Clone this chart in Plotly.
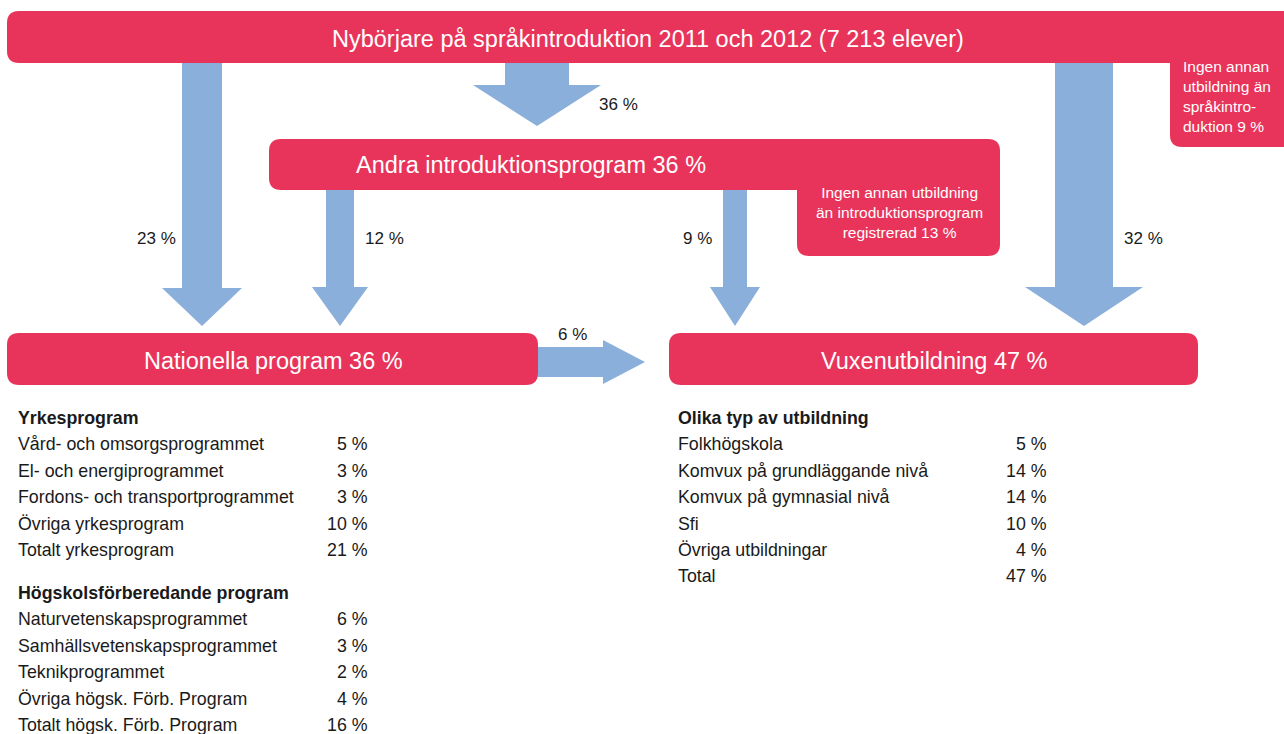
import plotly.graph_objects as go

# -- ------------------------------------------------------------------------------------ DATA -- #

box_labels = ['Nybörjare på språkintroduktion 2011 och 2012 (7 213 elever)',
              'Andra introduktionsprogram 36 %',
              'Nationella program 36 %',
              'Vuxenutbildning 47 %']

note_labels = ['Ingen annan<br>utbildning än<br>språkintro-<br>duktion 9 %',
               'Ingen annan utbildning<br>än introduktionsprogram<br>registrerad 13 %']

flow_names = ['till nationella', 'till andra intro', 'intro till nationella',
              'intro till vuxen', 'till vuxen', 'nationella till vuxen']
flow_pct = [23, 36, 12, 9, 32, 6]

yrkes_names = ['Vård- och omsorgsprogrammet', 'El- och energiprogrammet',
               'Fordons- och transportprogrammet', 'Övriga yrkesprogram', 'Totalt yrkesprogram']
yrkes_pct = [5, 3, 3, 10, 21]

hogsk_names = ['Naturvetenskapsprogrammet', 'Samhällsvetenskapsprogrammet', 'Teknikprogrammet',
               'Övriga högsk. Förb. Program', 'Totalt högsk. Förb. Program']
hogsk_pct = [6, 3, 2, 4, 16]

vuxen_names = ['Folkhögskola', 'Komvux på grundläggande nivå', 'Komvux på gymnasial nivå',
               'Sfi', 'Övriga utbildningar', 'Total']
vuxen_pct = [5, 14, 14, 10, 4, 47]

list_heads = ['Yrkesprogram', 'Högskolsförberedande program', 'Olika typ av utbildning']

# -- ---------------------------------------------------------------------------------- THEME -- #

red = '#E8345A'
blue = '#8AAFDA'
txt = '#1a1a1a'
f_box = 'Liberation Sans, Arial, sans-serif'
f_list = 'Liberation Sans, Arial, sans-serif'

W, H = 1284, 734


def rrect(x0, y0, x1, y1, r, tl=True, tr=True, br=True, bl=True):
    """ svg path of a rectangle with optional rounded corners (y grows downwards) """
    p = 'M %s,%s ' % (x0 + (r if tl else 0), y0)
    p += 'L %s,%s ' % (x1 - (r if tr else 0), y0)
    if tr:
        p += 'Q %s,%s %s,%s ' % (x1, y0, x1, y0 + r)
    p += 'L %s,%s ' % (x1, y1 - (r if br else 0))
    if br:
        p += 'Q %s,%s %s,%s ' % (x1, y1, x1 - r, y1)
    p += 'L %s,%s ' % (x0 + (r if bl else 0), y1)
    if bl:
        p += 'Q %s,%s %s,%s ' % (x0, y1, x0, y1 - r)
    p += 'L %s,%s ' % (x0, y0 + (r if tl else 0))
    if tl:
        p += 'Q %s,%s %s,%s ' % (x0, y0, x0 + r, y0)
    return p + 'Z'


def v_arrow(cx, sw, hw, y0, yh, yt):
    return ('M %s,%s L %s,%s L %s,%s L %s,%s L %s,%s L %s,%s L %s,%s Z'
            % (cx - sw, y0, cx + sw, y0, cx + sw, yh, cx + hw, yh, cx, yt,
               cx - hw, yh, cx - sw, yh))


def h_arrow(cy, sw, hw, x0, xh, xt):
    return ('M %s,%s L %s,%s L %s,%s L %s,%s L %s,%s L %s,%s L %s,%s Z'
            % (x0, cy - sw, xh, cy - sw, xh, cy - hw, xt, cy, xh, cy + hw,
               xh, cy + sw, x0, cy + sw))


# arrow geometry: (cx, shaft half width, head half width, y start, head start, tip)
v_geom = [(202, 20, 40, 63, 288, 326),
          (537, 32, 64, 63, 85, 126),
          (340, 14, 28, 190, 287, 326),
          (735, 12, 25, 190, 287, 326),
          (1084, 29, 59, 63, 287, 326)]
h_geom = (362, 15, 22, 538, 603, 645)
flow_label_pos = [(156, 238), (618, 104), (384, 238), (697, 238), (1143, 238), (572, 334)]

# -- --------------------------------------------------------------------------------- FIGURE -- #

fig = go.Figure()
fig.add_trace(go.Scatter(x=[0, W], y=[0, H], mode='markers', marker=dict(opacity=0),
                         hoverinfo='skip', showlegend=False))

shapes = []

# arrows
for g in v_geom:
    shapes.append(dict(type='path', path=v_arrow(*g), fillcolor=blue, line=dict(width=0),
                       layer='below'))
shapes.append(dict(type='path', path=h_arrow(*h_geom), fillcolor=blue, line=dict(width=0),
                   layer='below'))

# boxes
box_style = dict(type='path', fillcolor=red, line=dict(width=0), layer='above')
shapes.append(dict(box_style, path=rrect(7, 11, 1310, 63, 12, tr=False, br=False)))
shapes.append(dict(box_style, path=rrect(1170, 40, 1310, 147, 12, tl=False, tr=False, br=False)))
shapes.append(dict(box_style, path=rrect(269, 139, 1000, 190, 12)))
shapes.append(dict(box_style, path=rrect(797, 170, 1000, 256, 12, tl=False, tr=False)))
shapes.append(dict(box_style, path=rrect(7, 333, 538, 385, 12)))
shapes.append(dict(box_style, path=rrect(669, 333, 1198, 385, 12)))

annotations = []


def add_text(x, y, text, size, color=txt, xanchor='center', align='center', family=f_list):
    annotations.append(dict(x=x, y=y, xref='x', yref='y', text=text, showarrow=False,
                            xanchor=xanchor, yanchor='middle', align=align,
                            font=dict(family=family, size=size, color=color)))


# box titles
for (x, y), lab in zip([(648, 39), (531, 165), (273, 361), (934, 361)], box_labels):
    add_text(x, y, lab, 23.5, color='white', family=f_box)

# notes inside red boxes
add_text(1181, 96, note_labels[0], 15.5, color='white', xanchor='left', align='left', family=f_box)
add_text(899, 212, note_labels[1], 15.5, color='white', family=f_box)

# flow percentages
for (x, y), p in zip(flow_label_pos, flow_pct):
    add_text(x, y, '%d %%' % p, 17)

# lists
row_h = 26.4
f_size = 17.8


def add_list(x_name, x_val, y_head, head, names, vals):
    add_text(x_name, y_head, '<b>' + head + '</b>', f_size, xanchor='left', align='left')
    for i, (n, v) in enumerate(zip(names, vals)):
        y = y_head + row_h * (i + 1)
        add_text(x_name, y, n, f_size, xanchor='left', align='left')
        add_text(x_val, y, '%d %%' % v, f_size, xanchor='right', align='right')


add_list(16, 370, 418, list_heads[0], yrkes_names, yrkes_pct)
add_list(16, 370, 593, list_heads[1], hogsk_names, hogsk_pct)
add_list(676, 1049, 418, list_heads[2], vuxen_names, vuxen_pct)

fig.update_layout(width=W, height=H, autosize=False, shapes=shapes,
                  annotations=annotations, paper_bgcolor='white', plot_bgcolor='white',
                  margin=go.layout.Margin(l=0, r=0, b=0, t=0, pad=0),
                  xaxis=dict(range=[0, W], visible=False, fixedrange=True),
                  yaxis=dict(range=[H, 0], visible=False, fixedrange=True),
                  showlegend=False, hovermode=False)

# drop the default page margin so the figure fills the window exactly
fig.write_html("out.html", config=dict(displayModeBar=False),
               post_script="document.body.style.margin='0px';"
                           "document.body.style.overflow='hidden';")
